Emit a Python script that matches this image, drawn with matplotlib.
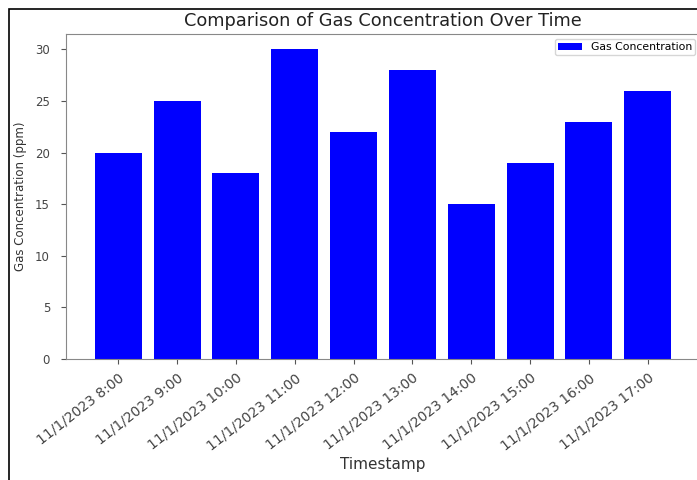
import matplotlib.pyplot as plt
from matplotlib.patches import Rectangle

timestamps = ["11/1/2023 8:00", "11/1/2023 9:00", "11/1/2023 10:00", "11/1/2023 11:00",
              "11/1/2023 12:00", "11/1/2023 13:00", "11/1/2023 14:00", "11/1/2023 15:00",
              "11/1/2023 16:00", "11/1/2023 17:00"]
gas_ppm = [20, 25, 18, 30, 22, 28, 15, 19, 23, 26]

W, H = 697, 480
fig = plt.figure(figsize=(W / 100, H / 100), dpi=100)
ax = fig.add_axes([66 / W, (H - 359) / H, (700 - 66) / W, (359 - 34) / H])

ax.bar(range(len(timestamps)), gas_ppm, color="blue", width=0.8, label="Gas Concentration")
ax.set_xticks(range(len(timestamps)))
ax.set_xticklabels(timestamps, rotation=38, ha="right", rotation_mode="anchor", fontsize=10)
ax.tick_params(axis="y", labelsize=8.5, pad=8)
ax.tick_params(axis="x", pad=5)
ax.tick_params(colors="#555555", labelcolor="#444444")
for sp in ax.spines.values():
    sp.set_color("#888888")

ax.set_title("Comparison of Gas Concentration Over Time", fontsize=12.8, color="#222222", pad=6)
ax.set_xlabel("Timestamp", fontsize=11, color="#333333", labelpad=3)
ax.set_ylabel("Gas Concentration (ppm)", fontsize=8.5, color="#333333", labelpad=6)
ax.legend(loc="upper right", fontsize=7.8, frameon=True, borderaxespad=0.45,
          borderpad=0.3, handlelength=2.2)

# dark frame around the whole picture (partly cropped on right and bottom)
fig.patches.append(Rectangle((9 / W, -0.1), 1.2, (H - 9) / H + 0.1, transform=fig.transFigure,
                             fill=False, edgecolor="black", linewidth=1.2))

fig.savefig("out.png", dpi=100)
